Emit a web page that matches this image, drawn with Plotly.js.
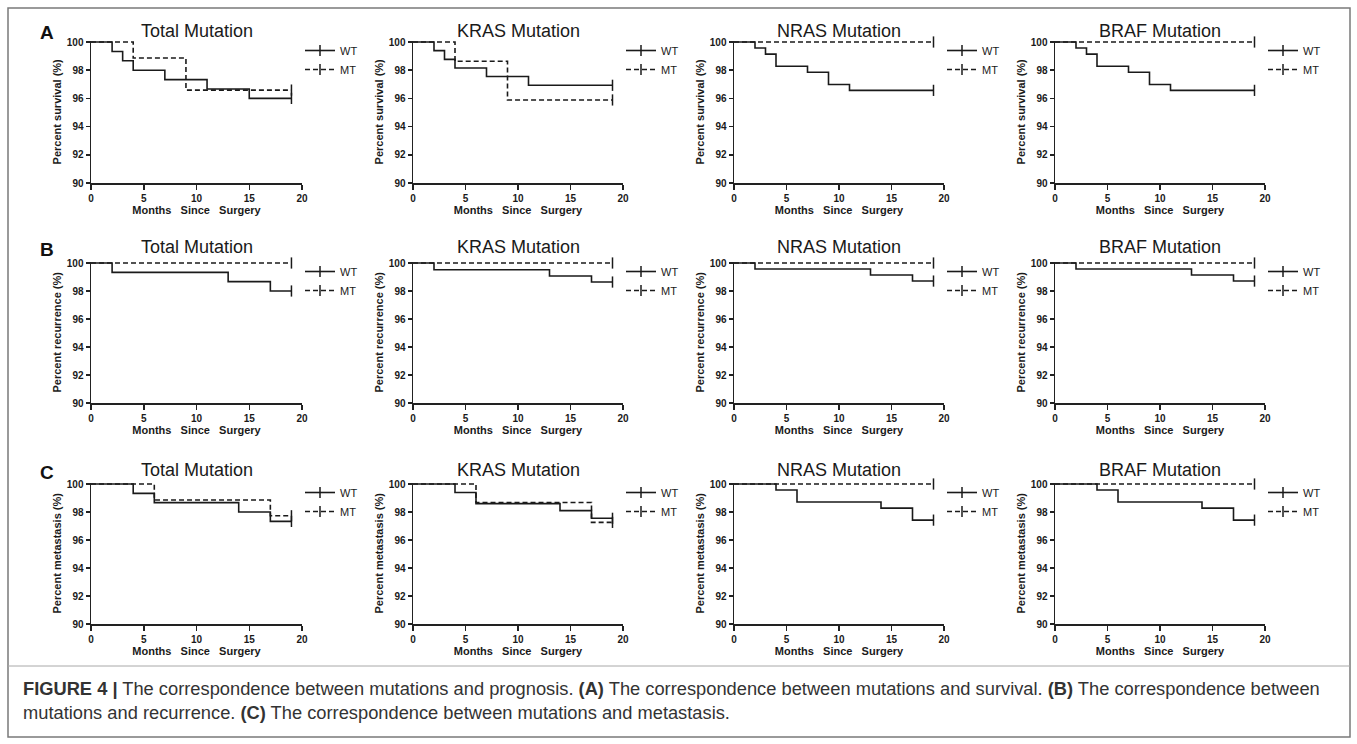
<!DOCTYPE html>
<html>
<head>
<meta charset="utf-8">
<script src="https://cdn.plot.ly/plotly-3.0.1.min.js"></script>
<style>html,body{margin:0;padding:0;background:#fff;}#chart{width:1357px;height:744px;}</style>
</head>
<body>
<div id="chart"></div>
<script>
// ---------- DATA ----------
const panelTitles = ["Total Mutation", "KRAS Mutation", "NRAS Mutation", "BRAF Mutation"];
const rowLetters = ["A", "B", "C"];
const rowYTitles = ["Percent survival (%)", "Percent recurrence (%)", "Percent metastasis (%)"];
const seriesNames = ["WT", "MT"];
const xTicks = [0, 5, 10, 15, 20];
const yTicks = [90, 92, 94, 96, 98, 100];

// (A) survival
const survTotalWTx = [0, 2, 3, 4, 7, 11, 15, 19];
const survTotalWTy = [100, 99.33, 98.67, 98.00, 97.33, 96.67, 96.00, 96.00];
const survTotalMTx = [0, 4, 9, 19];
const survTotalMTy = [100, 98.86, 96.59, 96.59];
const survKrasWTx = [0, 2, 3, 4, 7, 11, 19];
const survKrasWTy = [100, 99.39, 98.77, 98.16, 97.55, 96.93, 96.93];
const survKrasMTx = [0, 4, 9, 19];
const survKrasMTy = [100, 98.63, 95.89, 95.89];
const survNrasWTx = [0, 2, 3, 4, 7, 9, 11, 19];
const survNrasWTy = [100, 99.57, 99.14, 98.28, 97.85, 96.99, 96.57, 96.57];
const survNrasMTx = [0, 19];
const survNrasMTy = [100, 100];
const survBrafWTx = [0, 2, 3, 4, 7, 9, 11, 19];
const survBrafWTy = [100, 99.57, 99.14, 98.28, 97.85, 96.99, 96.57, 96.57];
const survBrafMTx = [0, 19];
const survBrafMTy = [100, 100];

// (B) recurrence
const recTotalWTx = [0, 2, 13, 17, 19];
const recTotalWTy = [100, 99.33, 98.67, 98.00, 98.00];
const recTotalMTx = [0, 19];
const recTotalMTy = [100, 100];
const recKrasWTx = [0, 2, 13, 17, 19];
const recKrasWTy = [100, 99.52, 99.07, 98.64, 98.64];
const recKrasMTx = [0, 19];
const recKrasMTy = [100, 100];
const recNrasWTx = [0, 2, 13, 17, 19];
const recNrasWTy = [100, 99.57, 99.14, 98.71, 98.71];
const recNrasMTx = [0, 19];
const recNrasMTy = [100, 100];
const recBrafWTx = [0, 2, 13, 17, 19];
const recBrafWTy = [100, 99.57, 99.14, 98.71, 98.71];
const recBrafMTx = [0, 19];
const recBrafMTy = [100, 100];

// (C) metastasis
const metTotalWTx = [0, 4, 6, 14, 17, 19];
const metTotalWTy = [100, 99.33, 98.67, 98.00, 97.33, 97.33];
const metTotalMTx = [0, 6, 17, 19];
const metTotalMTy = [100, 98.86, 97.73, 97.73];
const metKrasWTx = [0, 4, 6, 14, 17, 19];
const metKrasWTy = [100, 99.39, 98.60, 98.10, 97.55, 97.55];
const metKrasMTx = [0, 6, 17, 19];
const metKrasMTy = [100, 98.68, 97.26, 97.26];
const metNrasWTx = [0, 4, 6, 14, 17, 19];
const metNrasWTy = [100, 99.57, 98.71, 98.28, 97.42, 97.42];
const metNrasMTx = [0, 19];
const metNrasMTy = [100, 100];
const metBrafWTx = [0, 4, 6, 14, 17, 19];
const metBrafWTy = [100, 99.57, 98.71, 98.28, 97.42, 97.42];
const metBrafMTx = [0, 19];
const metBrafMTy = [100, 100];

const captionText = "<b>FIGURE 4 |</b> The correspondence between mutations and prognosis. <b>(A)</b> The correspondence between mutations and survival. <b>(B)</b> The correspondence between<br>mutations and recurrence. <b>(C)</b> The correspondence between mutations and metastasis.";

// ---------- LAYOUT GEOMETRY ----------
const W = 1357, H = 744;
const colPx = [[91, 302], [413, 623], [734, 944], [1055, 1265]];
const rowPx = [[42, 183], [263, 403], [484, 624]];
const rowTitleY = [31, 247, 470];
const FONT = "Liberation Sans, Arial, sans-serif";

const panels = [
  [[survTotalWTx, survTotalWTy, survTotalMTx, survTotalMTy], [survKrasWTx, survKrasWTy, survKrasMTx, survKrasMTy],
   [survNrasWTx, survNrasWTy, survNrasMTx, survNrasMTy], [survBrafWTx, survBrafWTy, survBrafMTx, survBrafMTy]],
  [[recTotalWTx, recTotalWTy, recTotalMTx, recTotalMTy], [recKrasWTx, recKrasWTy, recKrasMTx, recKrasMTy],
   [recNrasWTx, recNrasWTy, recNrasMTx, recNrasMTy], [recBrafWTx, recBrafWTy, recBrafMTx, recBrafMTy]],
  [[metTotalWTx, metTotalWTy, metTotalMTx, metTotalMTy], [metKrasWTx, metKrasWTy, metKrasMTx, metKrasMTy],
   [metNrasWTx, metNrasWTy, metNrasMTx, metNrasMTy], [metBrafWTx, metBrafWTy, metBrafMTx, metBrafMTy]]
];

const px = v => v / W;
const py = v => 1 - v / H;

const data = [];
const layout = {
  width: W, height: H,
  margin: {l: 0, r: 0, t: 0, b: 0},
  paper_bgcolor: "#ffffff", plot_bgcolor: "rgba(0,0,0,0)",
  showlegend: true,
  font: {family: FONT, color: "#1a1a1a"},
  annotations: [], shapes: []
};

const yTop = 100.1;
for (let r = 0; r < 3; r++) {
  for (let c = 0; c < 4; c++) {
    const k = r * 4 + c + 1;
    const sfx = k === 1 ? "" : String(k);
    const [x0, x1] = colPx[c];
    const [y100, y90] = rowPx[r];
    const perUnit = (y90 - y100) / 10;
    const topPx = y100 - (yTop - 100) * perUnit;
    const axisFont = {family: FONT, size: 10, color: "#1a1a1a", weight: "bold"};
    layout["xaxis" + sfx] = {
      domain: [px(x0), px(x1)], anchor: "y" + sfx, range: [0, 20],
      tickvals: xTicks, ticktext: xTicks.map(String), ticks: "outside", ticklen: 5, tickwidth: 1.5,
      tickcolor: "#222", showline: true, linecolor: "#222", linewidth: 1.5,
      showgrid: false, zeroline: false, fixedrange: true,
      tickfont: axisFont,
      title: {text: "Months\u00a0\u00a0\u00a0Since\u00a0\u00a0\u00a0Surgery", standoff: 4,
              font: {family: FONT, size: 11, color: "#1a1a1a", weight: "bold"}}
    };
    layout["yaxis" + sfx] = {
      domain: [py(y90), py(topPx)], anchor: "x" + sfx, range: [90, yTop],
      tickvals: yTicks, ticktext: yTicks.map(String), ticks: "outside", ticklen: 4, tickwidth: 1.5,
      tickcolor: "#222", showline: true, linecolor: "#222", linewidth: 1.5,
      showgrid: false, zeroline: false, fixedrange: true,
      tickfont: axisFont,
      title: {text: rowYTitles[r], standoff: 3,
              font: {family: FONT, size: 11, color: "#1a1a1a", weight: "bold"}}
    };
    const legName = "legend" + sfx;
    layout[legName] = {
      x: px(x1 - 2), y: py(y100 - 6), xanchor: "left", yanchor: "top",
      bgcolor: "rgba(0,0,0,0)", borderwidth: 0,
      font: {family: FONT, size: 11, color: "#1a1a1a"},
      tracegroupgap: 0
    };
    const p = panels[r][c];
    for (let s = 0; s < 2; s++) {
      const xs = p[s * 2], ys = p[s * 2 + 1];
      data.push({
        type: "scatter", mode: "lines+markers",
        x: xs, y: ys, name: seriesNames[s],
        xaxis: "x" + sfx, yaxis: "y" + sfx, legend: legName,
        line: {shape: "hv", color: "#1a1a1a", width: 1.6, dash: s === 0 ? "solid" : "5px,3px"},
        marker: {symbol: "line-ns", size: 8, color: "#1a1a1a", line: {color: "#1a1a1a", width: 1.5}},
        selectedpoints: [xs.length - 1],
        selected: {marker: {opacity: 1}},
        unselected: {marker: {opacity: 0}},
        cliponaxis: false,
        hoverinfo: "skip"
      });
    }
    layout.annotations.push({
      xref: "paper", yref: "paper", x: px((x0 + x1) / 2), y: py(rowTitleY[r]),
      xanchor: "center", yanchor: "middle", showarrow: false,
      text: panelTitles[c], font: {family: FONT, size: 18, color: "#1a1a1a"}
    });
  }
  layout.annotations.push({
    xref: "paper", yref: "paper", x: px(47), y: py(rowTitleY[r] + 2),
    xanchor: "center", yanchor: "middle", showarrow: false,
    text: "<b>" + rowLetters[r] + "</b>", font: {family: FONT, size: 19, color: "#111"}
  });
}

// caption
layout.annotations.push({
  xref: "paper", yref: "paper", x: px(21), y: py(676), xanchor: "left", yanchor: "top",
  align: "left", showarrow: false, text: captionText,
  font: {family: FONT, size: 18.3, color: "#333"}
});
// frame + separator
layout.shapes.push({type: "rect", xref: "paper", yref: "paper", x0: px(8), x1: px(1350), y0: py(737), y1: py(8),
  line: {color: "#7a7a7a", width: 1.5}});
layout.shapes.push({type: "line", xref: "paper", yref: "paper", x0: px(8), x1: px(1350), y0: py(666), y1: py(666),
  line: {color: "#a8a8a8", width: 1}});

Plotly.newPlot("chart", data, layout, {staticPlot: true, displayModeBar: false});
</script>
</body>
</html>
